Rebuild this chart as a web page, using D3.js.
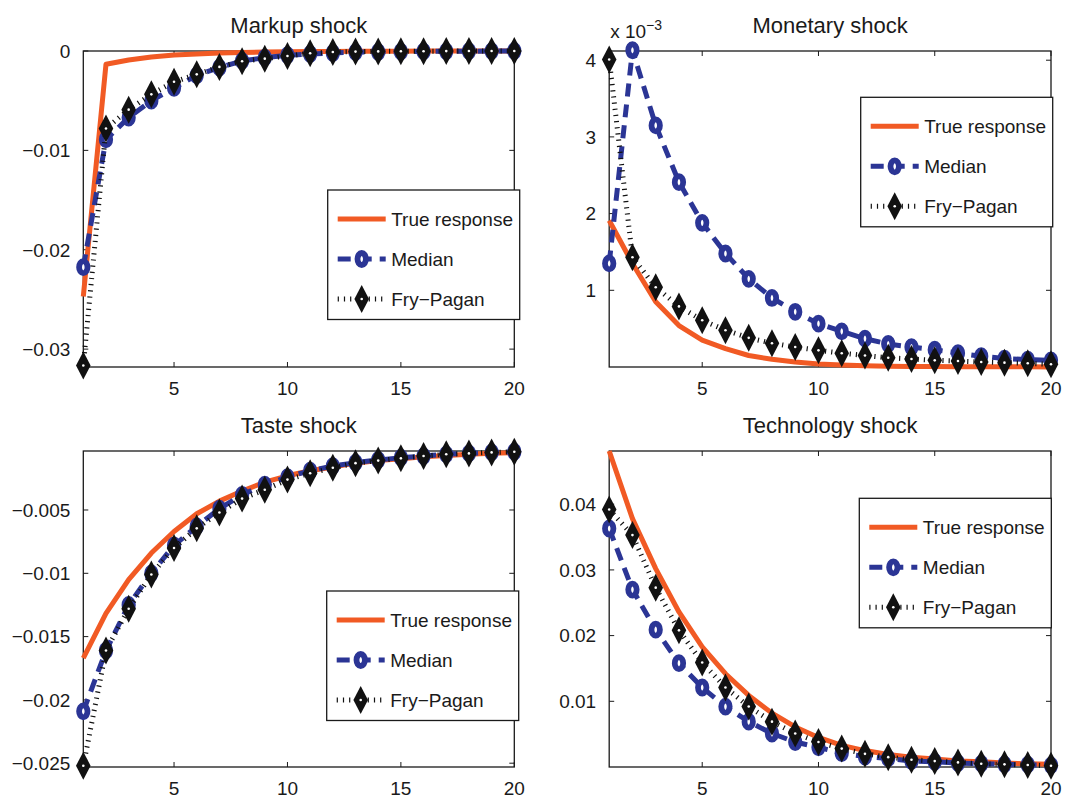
<!DOCTYPE html>
<html>
<head>
<meta charset="utf-8">
<title>Impulse responses</title>
<script src="https://d3js.org/d3.v7.min.js"></script>
<style>
  body { margin: 0; background: #fff; }
  svg { font-family: "Liberation Sans", Arial, sans-serif; }
  .tick-label { font-size: 19px; fill: #1a1a1a; }
  .title { font-size: 22px; fill: #1a1a1a; text-anchor: middle; }
  .legend-text { font-size: 19px; fill: #1a1a1a; }
</style>
</head>
<body>
<svg id="chart" width="1067" height="797"></svg>
<script>
// horizon 1..20
var horizon = d3.range(1, 21);
var xTicks = [5, 10, 15, 20];
var seriesNames = ["True response", "Median", "Fry\u2212Pagan"];

// Markup shock
var markupTrue = [-0.0247, -0.00134, -0.0009, -0.0006, -0.0004, -0.0003, -0.0002, -0.00015, -0.0001, -0.00007,
  -0.00005, -0.00004, -0.00003, -0.00002, -0.00002, -0.00001, -0.00001, 0, 0, 0];
var markupMedian = [-0.02175, -0.0089, -0.0067, -0.0050, -0.0037, -0.00245, -0.00167, -0.0010, -0.00067, -0.00043,
  -0.0003, -0.0002, -0.00012, -0.0001, -0.00006, -0.00004, -0.00003, -0.00002, -0.00001, 0];
var markupFP = [-0.03165, -0.0078, -0.0059, -0.00436, -0.0031, -0.00235, -0.0016, -0.00103, -0.00077, -0.0005,
  -0.00023, -0.0001, -0.00006, -0.00004, -0.00003, -0.00002, -0.00001, 0, 0, 0];
var markupTicks = [-0.03, -0.02, -0.01, 0];

// Monetary shock (x 10^-3)
var monetaryTrue = [1.91, 1.35, 0.85, 0.54, 0.35, 0.24, 0.15, 0.10, 0.065, 0.04,
  0.025, 0.015, 0.01, 0.007, 0.005, 0.004, 0.003, 0.002, 0.002, 0.001];
var monetaryMedian = [1.35, 4.13, 3.15, 2.41, 1.88, 1.48, 1.15, 0.90, 0.72, 0.565,
  0.465, 0.37, 0.30, 0.26, 0.226, 0.18, 0.14, 0.11, 0.096, 0.087];
var monetaryFP = [4.01, 1.43, 1.04, 0.79, 0.61, 0.48, 0.38, 0.31, 0.26, 0.217,
  0.18, 0.15, 0.12, 0.105, 0.087, 0.078, 0.065, 0.057, 0.048, 0.035];
var monetaryTicks = [1, 2, 3, 4];

// Taste shock
var tasteTrue = [-0.0167, -0.01316, -0.0105, -0.0084, -0.0067, -0.0053, -0.0043, -0.0035, -0.0028, -0.0023,
  -0.0019, -0.0016, -0.0013, -0.0011, -0.00095, -0.0008, -0.0007, -0.0006, -0.00052, -0.00047];
var tasteMedian = [-0.0209, -0.0161, -0.0125, -0.0100, -0.0078, -0.0063, -0.0049, -0.0038, -0.0030, -0.0024,
  -0.0019, -0.00153, -0.00126, -0.00105, -0.00087, -0.00074, -0.0006, -0.00053, -0.00045, -0.0004];
var tasteFP = [-0.0252, -0.0161, -0.0128, -0.0101, -0.0080, -0.00645, -0.0052, -0.0041, -0.0034, -0.0026,
  -0.0021, -0.00166, -0.0013, -0.0011, -0.00092, -0.00074, -0.0006, -0.00053, -0.00045, -0.0004];
var tasteTicks = [-0.025, -0.02, -0.015, -0.01, -0.005];

// Technology shock
var techTrue = [0.0481, 0.0378, 0.0302, 0.0236, 0.0183, 0.0142, 0.0109, 0.0082, 0.0061, 0.0045,
  0.0033, 0.0025, 0.0019, 0.0015, 0.0012, 0.0009, 0.0008, 0.0006, 0.0005, 0.0004];
var techMedian = [0.0363, 0.0270, 0.0209, 0.0158, 0.0121, 0.0092, 0.0069, 0.0051, 0.0038, 0.0030,
  0.0021, 0.0016, 0.0013, 0.0009, 0.0008, 0.0006, 0.0005, 0.0004, 0.00035, 0.00025];
var techFP = [0.0392, 0.0353, 0.0273, 0.0208, 0.0159, 0.0121, 0.0092, 0.0069, 0.0051, 0.0038,
  0.0028, 0.0020, 0.0015, 0.0011, 0.0009, 0.0007, 0.0005, 0.0004, 0.0003, 0.0002];
var techTicks = [0.01, 0.02, 0.03, 0.04];

var colors = { trueResp: "#f15a24", median: "#2b3595", fp: "#111111" };

var panels = [
  { title: "Markup shock", series: [markupTrue, markupMedian, markupFP], ticks: markupTicks,
    domain: [-0.0318, 0], left: 83.3, right: 514.3, top: 51, bottom: 367,
    legend: [327.7, 190], fmt: d3.format("") },
  { title: "Monetary shock", series: [monetaryTrue, monetaryMedian, monetaryFP], ticks: monetaryTicks,
    domain: [0, 4.12], left: 609.2, right: 1051, top: 51, bottom: 367,
    legend: [860.7, 97.3], fmt: d3.format(""), exponent: true },
  { title: "Taste shock", series: [tasteTrue, tasteMedian, tasteFP], ticks: tasteTicks,
    domain: [-0.0253, -0.00034], left: 83.3, right: 514.3, top: 451, bottom: 767,
    legend: [326.7, 591], fmt: d3.format("") },
  { title: "Technology shock", series: [techTrue, techMedian, techFP], ticks: techTicks,
    domain: [0, 0.0481], left: 609.2, right: 1051, top: 451, bottom: 767,
    legend: [859.3, 498.3], fmt: d3.format("") }
];

var svg = d3.select("#chart");

function drawCircleMarker(g, cx, cy) {
  g.append("ellipse")
    .attr("cx", cx).attr("cy", cy).attr("rx", 4.2).attr("ry", 6)
    .attr("fill", "#fff").attr("stroke", colors.median).attr("stroke-width", 5.8);
}

function drawDiamondMarker(g, cx, cy) {
  g.append("path")
    .attr("d", "M" + cx + "," + (cy - 14) + "L" + (cx + 7.3) + "," + cy + "L" + cx + "," + (cy + 14) +
      "L" + (cx - 7.3) + "," + cy + "Z")
    .attr("fill", colors.fp);
  g.append("circle").attr("cx", cx).attr("cy", cy).attr("r", 1.3).attr("fill", "#fff");
}

panels.forEach(function(p) {
  var x = d3.scaleLinear().domain([1, 20]).range([p.left, p.right]);
  var y = d3.scaleLinear().domain(p.domain).range([p.bottom, p.top]);
  var g = svg.append("g");

  // axes box
  g.append("rect")
    .attr("x", p.left).attr("y", p.top)
    .attr("width", p.right - p.left).attr("height", p.bottom - p.top)
    .attr("fill", "none").attr("stroke", "#1a1a1a").attr("stroke-width", 1.3);

  // ticks inside on all sides
  xTicks.forEach(function(t) {
    g.append("line").attr("x1", x(t)).attr("x2", x(t)).attr("y1", p.bottom).attr("y2", p.bottom - 5)
      .attr("stroke", "#1a1a1a");
    g.append("line").attr("x1", x(t)).attr("x2", x(t)).attr("y1", p.top).attr("y2", p.top + 5)
      .attr("stroke", "#1a1a1a");
    g.append("text").attr("class", "tick-label")
      .attr("x", x(t)).attr("y", p.bottom + 27.5).attr("text-anchor", "middle").text(t);
  });
  p.ticks.forEach(function(t) {
    g.append("line").attr("x1", p.left).attr("x2", p.left + 5).attr("y1", y(t)).attr("y2", y(t))
      .attr("stroke", "#1a1a1a");
    g.append("line").attr("x1", p.right).attr("x2", p.right - 5).attr("y1", y(t)).attr("y2", y(t))
      .attr("stroke", "#1a1a1a");
    g.append("text").attr("class", "tick-label")
      .attr("x", p.left - 13).attr("y", y(t)).attr("dy", "0.36em")
      .attr("text-anchor", "end").text(p.fmt(t));
  });

  g.append("text").attr("class", "title")
    .attr("x", (p.left + p.right) / 2).attr("y", p.top - 18).text(p.title);

  if (p.exponent) {
    var ex = g.append("text").attr("class", "tick-label").attr("x", p.left + 1).attr("y", p.top - 13);
    ex.append("tspan").text("x 10");
    ex.append("tspan").attr("dy", -8).style("font-size", "14px").text("\u22123");
  }

  var line = d3.line().x(function(d, i) { return x(horizon[i]); }).y(function(d) { return y(d); });

  g.append("path").datum(p.series[0]).attr("d", line)
    .attr("fill", "none").attr("stroke", colors.trueResp).attr("stroke-width", 5)
    .attr("stroke-linejoin", "round");

  g.append("path").datum(p.series[1]).attr("d", line)
    .attr("fill", "none").attr("stroke", colors.median).attr("stroke-width", 5)
    .attr("stroke-dasharray", "13 8");
  p.series[1].forEach(function(v, i) { drawCircleMarker(g, x(horizon[i]), y(v)); });

  g.append("path").datum(p.series[2]).attr("d", line)
    .attr("fill", "none").attr("stroke", colors.fp).attr("stroke-width", 5)
    .attr("stroke-dasharray", "1.2 5");
  p.series[2].forEach(function(v, i) { drawDiamondMarker(g, x(horizon[i]), y(v)); });

  // legend
  var lg = svg.append("g").attr("transform", "translate(" + p.legend[0] + "," + p.legend[1] + ")");
  lg.append("rect").attr("width", 192).attr("height", 129.5)
    .attr("fill", "#fff").attr("stroke", "#1a1a1a").attr("stroke-width", 1.3);
  var rows = [29, 69, 109];
  lg.append("line").attr("x1", 10).attr("x2", 58).attr("y1", rows[0]).attr("y2", rows[0])
    .attr("stroke", colors.trueResp).attr("stroke-width", 5);
  lg.append("line").attr("x1", 10).attr("x2", 58).attr("y1", rows[1]).attr("y2", rows[1])
    .attr("stroke", colors.median).attr("stroke-width", 5).attr("stroke-dasharray", "13 8");
  drawCircleMarker(lg, 34, rows[1]);
  lg.append("line").attr("x1", 10).attr("x2", 58).attr("y1", rows[2]).attr("y2", rows[2])
    .attr("stroke", colors.fp).attr("stroke-width", 5).attr("stroke-dasharray", "1.2 5");
  drawDiamondMarker(lg, 34, rows[2]);
  seriesNames.forEach(function(n, i) {
    lg.append("text").attr("class", "legend-text")
      .attr("x", 63.5).attr("y", rows[i]).attr("dy", "0.36em").text(n);
  });
});
</script>
</body>
</html>
